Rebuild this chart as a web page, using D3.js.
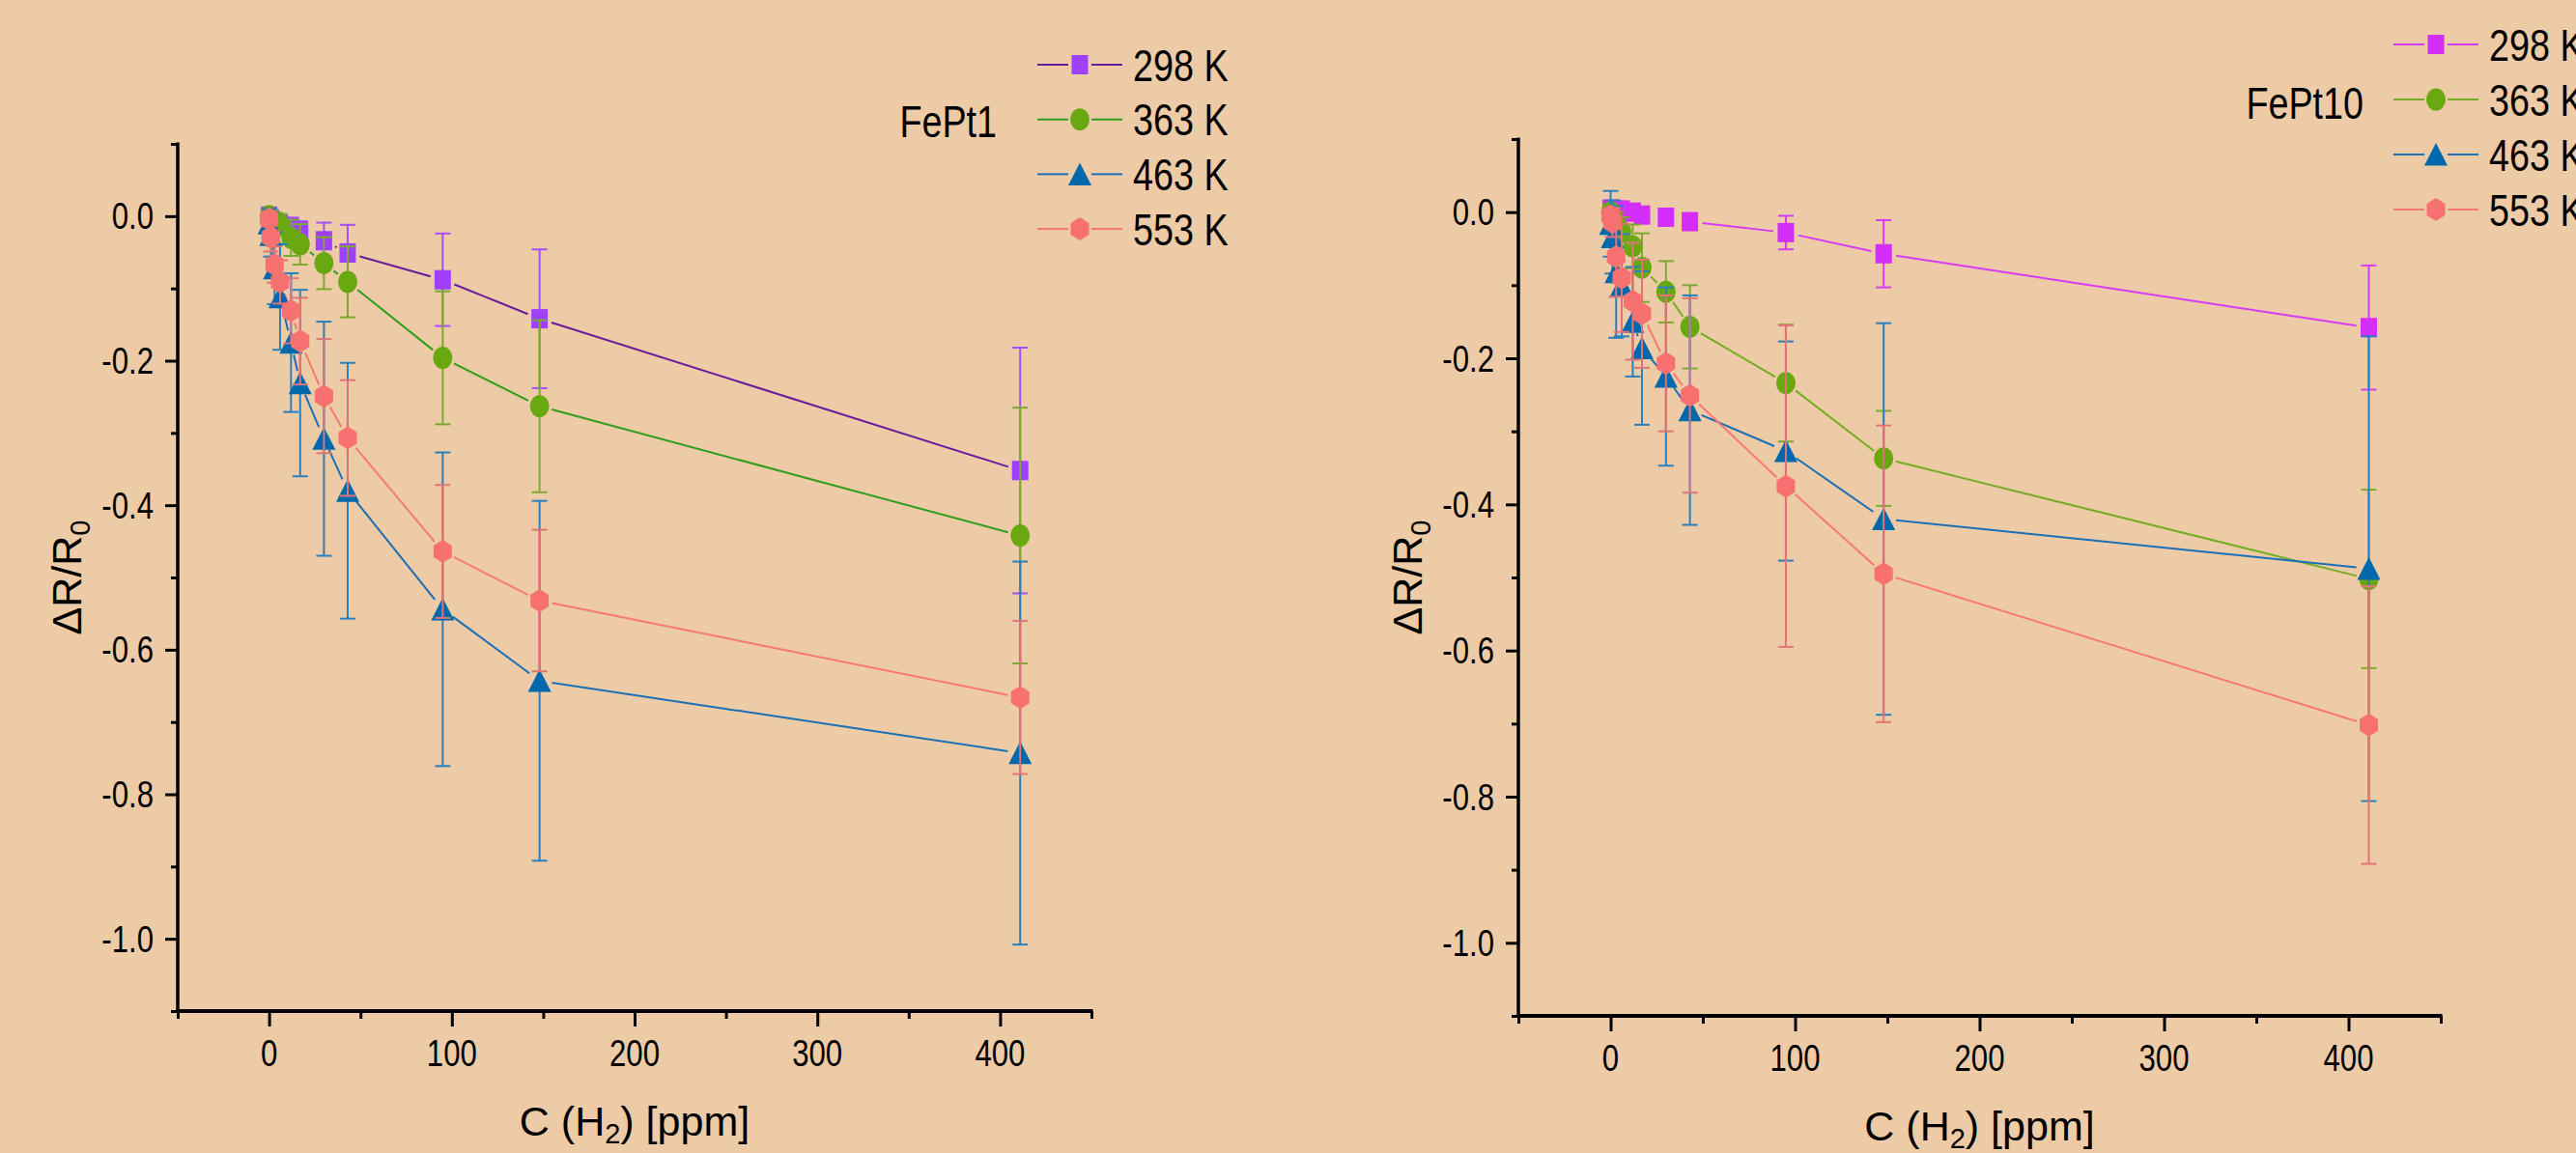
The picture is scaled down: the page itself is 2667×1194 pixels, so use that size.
<!DOCTYPE html>
<html><head><meta charset="utf-8">
<script src="https://cdn.jsdelivr.net/npm/d3@7"></script>
<style>html,body{margin:0;padding:0;background:#EDCBA6;} svg{display:block;}</style>
</head><body>
<svg id="chart" width="2667" height="1194"></svg>
<script>
// ---------- data ----------
const conc = [0, 1, 3, 6, 12, 17, 30, 43, 95, 148, 411];
const temps = ["298 K", "363 K", "463 K", "553 K"];
const xTicks = [0, 100, 200, 300, 400];
const xMinorTicks = [-50, 50, 150, 250, 350, 450];
const yTicks = [0.0, -0.2, -0.4, -0.6, -0.8, -1.0];
const yMinorTicks = [0.1, -0.1, -0.3, -0.5, -0.7, -0.9, -1.1];
const yTickLabels = ["0.0", "-0.2", "-0.4", "-0.6", "-0.8", "-1.0"];
const xTickLabels = ["0", "100", "200", "300", "400"];

// FePt1
const fept1_298 = [0, -0.004, -0.008, -0.012, -0.016, -0.021, -0.034, -0.051, -0.088, -0.142, -0.352];
const fept1_298_err = [0.008, 0.008, 0.01, 0.012, 0.014, 0.014, 0.025, 0.039, 0.064, 0.096, 0.170];
const fept1_363 = [0, -0.003, -0.007, -0.012, -0.030, -0.039, -0.065, -0.091, -0.196, -0.263, -0.442];
const fept1_363_err = [0.008, 0.01, 0.012, 0.015, 0.025, 0.028, 0.036, 0.049, 0.092, 0.119, 0.177];
const fept1_463 = [-0.010, -0.026, -0.072, -0.112, -0.175, -0.231, -0.308, -0.380, -0.544, -0.643, -0.743];
const fept1_463_err = [0.02, 0.03, 0.05, 0.073, 0.096, 0.129, 0.162, 0.177, 0.217, 0.249, 0.265];
const fept1_553 = [-0.004, -0.029, -0.067, -0.091, -0.131, -0.173, -0.249, -0.307, -0.464, -0.532, -0.666];
const fept1_553_err = [0.01, 0.02, 0.025, 0.03, 0.045, 0.06, 0.079, 0.08, 0.092, 0.098, 0.106];

// FePt10
const fept10_298 = [0.004, 0.004, 0.003, 0.003, 0.0, -0.004, -0.007, -0.013, -0.028, -0.057, -0.158];
const fept10_298_err = [0.005, 0.005, 0.005, 0.005, 0.005, 0.005, 0.006, 0.008, 0.023, 0.046, 0.085];
const fept10_363 = [0, -0.007, -0.015, -0.027, -0.047, -0.076, -0.109, -0.157, -0.234, -0.337, -0.502];
const fept10_363_err = [0.01, 0.012, 0.015, 0.02, 0.03, 0.047, 0.042, 0.057, 0.08, 0.065, 0.122];
const fept10_463 = [-0.016, -0.034, -0.082, -0.100, -0.150, -0.186, -0.225, -0.271, -0.327, -0.420, -0.488];
const fept10_463_err = [0.045, 0.05, 0.09, 0.07, 0.075, 0.105, 0.122, 0.157, 0.15, 0.268, 0.318];
const fept10_553 = [-0.005, -0.014, -0.061, -0.090, -0.122, -0.139, -0.207, -0.251, -0.375, -0.495, -0.702];
const fept10_553_err = [0.01, 0.02, 0.055, 0.074, 0.08, 0.074, 0.093, 0.133, 0.22, 0.203, 0.19];

// ---------- styles ----------
const shapes = ["square", "circle", "triangle", "hexagon"];
const leftStyle = [
  {marker: "#A040FF", line: "#6A1B9A", err: "#A64DFF"},
  {marker: "#6AA812", line: "#2E9E1C", err: "#7BAA2E"},
  {marker: "#0068AD", line: "#1B6FB5", err: "#2A7FBF"},
  {marker: "#F87171", line: "#F87878", err: "#E07478"}
];
const rightStyle = [
  {marker: "#D42EFA", line: "#D63CF5", err: "#D63CF5"},
  {marker: "#6AA812", line: "#74AD24", err: "#7BAA2E"},
  {marker: "#0068AD", line: "#1B6FB5", err: "#2A7FBF"},
  {marker: "#F87171", line: "#F87878", err: "#E07478"}
];

const panels = [
  {x0: 184, x1: 1130, yTop: 149, yBot: 1047, label: "FePt1", labelX: 1032, labelY: 142,
   legX: 1074, legY: 67, legDy: 56.7, style: leftStyle,
   series: [[fept1_298, fept1_298_err], [fept1_363, fept1_363_err], [fept1_463, fept1_463_err], [fept1_553, fept1_553_err]]},
  {x0: 1572, x1: 2527, yTop: 144, yBot: 1052, label: "FePt10", labelX: 2447, labelY: 123,
   legX: 2478, legY: 46, legDy: 57, style: rightStyle,
   series: [[fept10_298, fept10_298_err], [fept10_363, fept10_363_err], [fept10_463, fept10_463_err], [fept10_553, fept10_553_err]]}
];

const svg = d3.select("#chart");
svg.append("rect").attr("width", 2667).attr("height", 1194).attr("fill", "#EDCBA6");

const FONT = "'Liberation Sans', Arimo, Arial, sans-serif";
const NARROW = 0.82;

function narrowText(g, x, y, str, size, anchor) {
  g.append("text")
    .attr("transform", `translate(${x},${y}) scale(${NARROW},1)`)
    .attr("font-family", FONT).attr("font-size", size)
    .attr("text-anchor", anchor).attr("fill", "#000")
    .text(str);
}

function markerPath(type, cx, cy) {
  if (type === "square") return `M${cx-8.5},${cy-10}h17v20h-17Z`;
  if (type === "triangle") return `M${cx},${cy-12}L${cx+12},${cy+11.5}L${cx-12},${cy+11.5}Z`;
  if (type === "hexagon") return `M${cx},${cy-12}L${cx+9.5},${cy-6}L${cx+9.5},${cy+6}L${cx},${cy+12}L${cx-9.5},${cy+6}L${cx-9.5},${cy-6}Z`;
  const rx = 10, ry = 11.5;
  return `M${cx-rx},${cy}A${rx},${ry} 0 1,0 ${cx+rx},${cy}A${rx},${ry} 0 1,0 ${cx-rx},${cy}Z`;
}

panels.forEach(p => {
  const g = svg.append("g");
  const x = d3.scaleLinear().domain([-50, 450]).range([p.x0, p.x1]);
  const y = d3.scaleLinear().domain([-1.1, 0.1]).range([p.yBot, p.yTop]);

  const xAxis = d3.axisBottom(x).tickValues(xTicks).tickFormat("").tickSize(16);
  const xMinor = d3.axisBottom(x).tickValues(xMinorTicks).tickFormat("").tickSize(8);
  const yAxis = d3.axisLeft(y).tickValues(yTicks).tickFormat("").tickSize(13);
  const yMinor = d3.axisLeft(y).tickValues(yMinorTicks).tickFormat("").tickSize(7);

  function styleAxis(sel) {
    sel.select(".domain").remove();
    sel.selectAll(".tick line").attr("stroke", "#000").attr("stroke-width", 3);
    sel.selectAll(".tick text").remove();
  }
  g.append("g").attr("transform", `translate(0,${p.yBot})`).call(xAxis).call(styleAxis);
  g.append("g").attr("transform", `translate(0,${p.yBot})`).call(xMinor).call(styleAxis);
  g.append("g").attr("transform", `translate(${p.x0},0)`).call(yAxis).call(styleAxis);
  g.append("g").attr("transform", `translate(${p.x0},0)`).call(yMinor).call(styleAxis);

  g.append("line").attr("x1", p.x0 - 1.5).attr("x2", p.x1 + 1.5).attr("y1", p.yBot).attr("y2", p.yBot)
    .attr("stroke", "#000").attr("stroke-width", 4);
  g.append("line").attr("x1", p.x0).attr("x2", p.x0).attr("y1", p.yTop - 1.5).attr("y2", p.yBot)
    .attr("stroke", "#000").attr("stroke-width", 3.5);

  const tl = g.append("g");
  xTicks.forEach((v, i) => narrowText(tl, x(v), p.yBot + 57, xTickLabels[i], 38, "middle"));
  yTicks.forEach((v, i) => narrowText(tl, p.x0 - 25, y(v) + 13.5, yTickLabels[i], 38, "end"));

  const xt = g.append("text").attr("x", (p.x0 + p.x1) / 2).attr("y", p.yBot + 129)
    .attr("font-family", FONT).attr("font-size", 43).attr("text-anchor", "middle").attr("fill", "#000");
  xt.append("tspan").text("C (H");
  xt.append("tspan").attr("font-size", 29).attr("dy", 8).text("2");
  xt.append("tspan").attr("dy", -8).text(") [ppm]");

  const yt = g.append("text").attr("transform", `translate(${p.x0 - 100},${(p.yTop + p.yBot) / 2}) rotate(-90)`)
    .attr("font-family", FONT).attr("font-size", 43).attr("text-anchor", "middle").attr("fill", "#000");
  yt.append("tspan").text("\u0394R/R");
  yt.append("tspan").attr("font-size", 29).attr("dy", 9).text("0");

  const gap = 13;
  const linesG = g.append("g");
  p.series.forEach((s, si) => {
    const vals = s[0];
    const pts = conc.map((c, i) => [x(c), y(vals[i])]);
    for (let i = 0; i < pts.length - 1; i++) {
      const [ax, ay] = pts[i], [bx, by] = pts[i + 1];
      const dx = bx - ax, dy = by - ay, d = Math.hypot(dx, dy);
      if (d <= 2 * gap + 1) continue;
      const ux = dx / d, uy = dy / d;
      linesG.append("line")
        .attr("x1", ax + ux * gap).attr("y1", ay + uy * gap)
        .attr("x2", bx - ux * gap).attr("y2", by - uy * gap)
        .attr("stroke", p.style[si].line).attr("stroke-width", 2);
    }
  });

  p.series.forEach((s, si) => {
    const vals = s[0], errs = s[1];
    const sg = g.append("g");
    conc.forEach((c, i) => {
      const cx = x(c), top = y(vals[i] + errs[i]), bot = y(vals[i] - errs[i]);
      sg.append("line").attr("x1", cx).attr("x2", cx).attr("y1", top).attr("y2", bot)
        .attr("stroke", p.style[si].err).attr("stroke-width", 2);
      [top, bot].forEach(yy => sg.append("line").attr("x1", cx - 8).attr("x2", cx + 8)
        .attr("y1", yy).attr("y2", yy).attr("stroke", p.style[si].err).attr("stroke-width", 2));
    });
    conc.forEach((c, i) => {
      sg.append("path").attr("d", markerPath(shapes[si], x(c), y(vals[i])))
        .attr("fill", p.style[si].marker);
    });
  });

  narrowText(g, p.labelX, p.labelY, p.label, 46, "end");

  const lg = g.append("g");
  temps.forEach((t, i) => {
    const cy = p.legY + i * p.legDy;
    const mx = p.legX + 44;
    lg.append("line").attr("x1", p.legX).attr("x2", mx - 12).attr("y1", cy).attr("y2", cy)
      .attr("stroke", p.style[i].line).attr("stroke-width", 2);
    lg.append("line").attr("x1", mx + 12).attr("x2", p.legX + 88).attr("y1", cy).attr("y2", cy)
      .attr("stroke", p.style[i].line).attr("stroke-width", 2);
    lg.append("path").attr("d", markerPath(shapes[i], mx, cy)).attr("fill", p.style[i].marker);
    narrowText(lg, p.legX + 99, cy + 16.5, t, 46, "start");
  });
});
</script>
</body></html>
